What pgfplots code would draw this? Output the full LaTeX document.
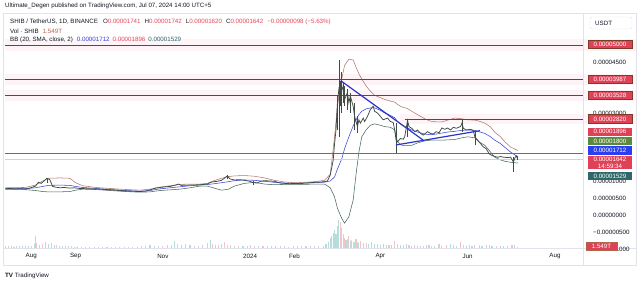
\documentclass[border=0pt]{standalone}
\usepackage{fontspec}
\setmainfont{Liberation Sans}
\usepackage{pgfplots}
\pgfplotsset{compat=1.18}
\usepackage{pgfplotstable}
\usepgfplotslibrary{fillbetween}

\definecolor{gridc}{HTML}{EEF1F7}
\definecolor{framec}{HTML}{E0E3EB}
\definecolor{txt}{HTML}{131722}
\definecolor{lred}{HTML}{E8475A}
\definecolor{bbup}{HTML}{B8766E}
\definecolor{bbmid}{HTML}{3A45D6}
\definecolor{bblo}{HTML}{486A5A}
\definecolor{bbfill}{HTML}{DDF0F5}
\definecolor{candle}{HTML}{3E4C44}
\definecolor{brownc}{HTML}{7E3B27}
\definecolor{greenc}{HTML}{4E8A2E}
\definecolor{trend}{HTML}{2B35C9}
\definecolor{volup}{HTML}{B5DEDA}
\definecolor{voldn}{HTML}{F2C6C6}
\definecolor{pinkband}{HTML}{FEF3F7}
\definecolor{tagred}{HTML}{DF4256}
\definecolor{taggreen}{HTML}{5C8A3C}
\definecolor{tagblue}{HTML}{2B3FF0}
\definecolor{tagteal}{HTML}{2F6868}
\definecolor{volc}{HTML}{B0654A}

\newcommand\fs{\fontsize{6.2}{6.8}\selectfont}
\newcommand\fl{\fontsize{6.2}{6.8}\selectfont}

\pgfplotstableread{
d c
-18 770
-15 780
-11 765
-8 775
-4 760
-1 790
3 850
5 960
7 930
9 1000
11 1080
13 1040
15 840
17 820
20 800
23 810
27 790
30 800
34 780
41 770
48 760
55 740
62 720
69 700
76 690
80 700
83 740
87 790
90 810
94 830
97 840
101 880
103 910
105 870
111 880
118 890
123 910
126 970
130 990
133 1020
135 1080
137 1150
139 1060
142 1030
146 1040
149 1020
153 990
155 950
158 940
160 990
163 1010
167 1000
170 990
174 940
177 930
181 920
184 930
188 920
191 940
195 950
198 960
202 970
205 980
207 1000
209 1180
211 1600
212 2100
213 2500
214 3300
215 3700
216 3500
218 3800
219 3400
221 3600
222 3300
223 3500
225 3200
226 2900
228 2600
229 2800
230 2700
232 2850
233 2750
235 2900
237 3100
239 3200
240 3050
242 3000
244 2900
246 2800
249 2850
251 2750
253 2720
254 2500
255 2200
256 2150
258 2250
260 2230
261 2300
263 2780
264 2600
266 2550
268 2450
270 2500
272 2400
274 2350
277 2450
279 2400
281 2380
283 2450
285 2420
287 2560
289 2520
291 2560
293 2500
295 2580
297 2550
300 2600
301 2700
302 2550
304 2500
307 2520
309 2480
310 2300
312 2200
314 2100
316 2000
318 1950
320 1800
322 1750
324 1720
326 1700
328 1720
330 1700
333 1690
335 1700
337 1560
338 1680
339 1740
340 1642
}\price

\pgfplotstableread{
d up mid lo
-18 800 775 745
-4 810 778 745
3 880 800 720
8 1000 840 690
12 1080 870 680
20 1090 880 680
27 1080 870 690
31 950 840 730
36 860 810 760
45 810 780 750
55 780 750 720
66 750 720 690
76 730 700 670
83 760 720 680
90 820 770 720
97 860 800 740
104 900 830 760
111 910 860 800
118 910 880 850
123 930 895 850
128 1010 920 790
133 1080 950 730
138 1130 980 760
142 1150 1010 850
149 1160 1030 930
156 1140 1020 960
163 1090 990 910
170 1020 960 890
177 970 940 900
184 950 930 900
191 960 935 900
198 980 950 910
205 1020 965 910
209 1200 1000 800
212 2300 1120 530
214 3200 1350 200
217 4000 1650 -100
219 4400 1950 -240
222 4580 2300 -50
225 4560 2620 440
227 4350 2800 1200
229 4150 2950 1850
231 4000 3050 2300
234 3800 3120 2500
237 3640 3150 2640
240 3520 3150 2680
244 3450 3080 2640
247 3400 3000 2600
251 3350 2930 2580
254 3320 2860 2500
256 3250 2750 2150
259 3180 2650 2050
263 3130 2560 2050
266 3050 2500 2050
270 2950 2440 2120
275 2830 2380 2180
279 2760 2360 2200
283 2740 2380 2200
287 2740 2410 2200
291 2790 2440 2210
296 2850 2460 2220
301 2830 2490 2270
305 2800 2500 2300
310 2790 2490 2270
313 2760 2450 2150
317 2700 2400 2050
321 2590 2300 1850
324 2430 2200 1700
328 2300 2100 1620
331 2150 1990 1580
335 2000 1850 1550
340 1896 1712 1529
}\bands

\pgfplotstableread{
d u v
-18 2 0
-16 0 2
-14 2 0
-12 0 1.5
-10 2 0
-8 0 2
-6 2.5 0
-4 0 2
-2 2 0
0 0 2.5
2 4 0
3 12 0
4 0 5
6 3 0
8 0 4
10 0 6
12 4 0
14 0 5
16 3 0
18 0 3
20 0 2.5
22 2 0
24 0 2
26 2 0
28 0 2
30 1.5 0
32 0 1.5
35 1.5 0
38 0 1.5
41 1.5 0
44 0 1.5
47 1.5 0
50 0 1.5
53 1.5 0
56 0 1.5
59 1.5 0
62 0 1.5
65 1.5 0
68 0 1.5
71 1.5 0
74 0 1.5
77 2 0
80 0 2
83 3 0
86 0 2
89 2.5 0
92 0 2
95 3 0
98 0 3
100 7 0
102 0 4
105 3 0
108 0 4
111 3 0
114 0 2.5
117 2.5 0
120 0 3
123 5 0
125 8 0
127 0 4
129 3 0
131 0 3
133 4 0
135 0 6
137 3 0
139 0 3
142 2 0
145 0 2
148 2.5 0
151 0 2
153 3 0
156 0 2
159 2 0
162 0 2
165 2 0
168 0 2
171 2 0
174 0 2
177 2 0
180 0 1.5
183 2 0
186 0 2
189 2 0
192 0 2
195 2 0
198 0 2
201 2.5 0
204 0 2.5
206 4 0
208 6 0
209 10 0
210 12 0
211 15 0
212 18 0
213 14 0
214 0 22
215 28 0
216 0 26
217 0 20
218 0 14
219 0 10
220 8 0
221 0 9
222 0 12
223 7 0
224 0 8
225 0 6
226 6 0
227 0 9
228 0 6
229 5 0
230 0 7
232 5 0
234 0 5
236 4 0
238 0 6
240 4 0
242 0 4
244 3 0
246 0 4
248 3 0
250 0 3
252 3 0
254 0 7
256 0 4
258 3 0
260 0 3
262 4 0
264 0 3
266 2.5 0
268 0 3
270 2.5 0
272 0 2.5
274 2.5 0
276 0 3
278 3 0
280 0 2.5
282 2.5 0
285 0 4
287 2.5 0
290 0 3
293 4 0
295 0 3
297 2.5 0
300 0 6
302 0 3
304 2.5 0
306 0 3
308 2 0
310 0 3
313 0 3
315 2.5 0
318 0 3
320 0 3
322 2 0
325 0 2.5
328 2 0
330 0 2
333 2 0
336 0 3
338 3 0
340 0 1.5
}\vol

\begin{document}
\begin{tikzpicture}[x=1pt,y=1pt]
\fill[white] (0pt,0pt) rectangle (640pt,284pt);
% faint pink glow bands around drawn levels
\fill[pinkband] (5,233) rectangle (637,245);
\fill[pinkband] (5,199) rectangle (637,210);
\fill[pinkband] (5,183) rectangle (637,194);
\fill[pinkband] (400,160) rectangle (637,170);

% volume pane
\begin{axis}[at={(5pt,36pt)}, anchor=south west, scale only axis,
  width=578pt, height=234pt, xmin=-18.3, xmax=385.6, ymin=0, ymax=234,
  axis line style={draw=none}, tick style={draw=none},
  xtick=\empty, ytick=\empty]
\addplot[ycomb, volup, line width=1.1pt] table[x=d,y=u]{\vol};
\addplot[ycomb, voldn, line width=1.1pt] table[x=d,y=v]{\vol};
\end{axis}

% price pane
\begin{axis}[at={(5pt,36pt)}, anchor=south west, scale only axis,
  width=578pt, height=234pt, xmin=-18.3, xmax=385.6, ymin=-971, ymax=5912,
  axis line style={draw=none}, tick style={draw=none},
  xtick={0,31,92,153,184,244,305,366},
  xticklabels={Aug,Sep,Nov,2024,Feb,Apr,Jun,Aug},
  xticklabel style={font=\fs, text=txt, anchor=center, yshift=-8pt},
  ytick={-1000,-500,...,5500}, yticklabels=\empty,
  yticklabel style={inner sep=0pt},
  grid=major, major grid style={gridc, line width=0.5pt},
  clip mode=individual]
\addplot[draw=none, name path=U] table[x=d,y=up]{\bands};
\addplot[draw=none, name path=L] table[x=d,y=lo]{\bands};
\addplot[bbfill, fill opacity=0.8] fill between[of=U and L];
\addplot[bbup, line width=0.55pt] table[x=d,y=up]{\bands};
\addplot[bblo, line width=0.55pt] table[x=d,y=lo]{\bands};
\addplot[bbmid, line width=0.55pt] table[x=d,y=mid]{\bands};
% horizontal levels
\addplot[brownc, line width=0.9pt] coordinates {(-18.3,5000) (385.6,5000)};
\addplot[brownc, line width=0.9pt] coordinates {(-18.3,3987) (385.6,3987)};
\addplot[brownc, line width=0.9pt] coordinates {(-18.3,3528) (385.6,3528)};
\addplot[brownc, line width=0.9pt] coordinates {(261,2820) (385.6,2820)};
\addplot[greenc, line width=0.9pt] coordinates {(-18.3,1800) (385.6,1800)};
\addplot[greenc!30, line width=0.4pt] coordinates {(-18.3,1642) (385.6,1642)};
% price (close) and wicks
\addplot[candle, line width=0.75pt] table[x=d,y=c]{\price};
\addplot[candle, line width=0.5pt] coordinates {(215,2300) (215,4560)};
\addplot[candle, line width=0.5pt] coordinates {(217,3000) (217,4200)};
\addplot[candle, line width=0.9pt] coordinates {(214,2500) (214,3500)};
\addplot[candle, line width=0.9pt] coordinates {(216,3200) (216,3950)};
\addplot[candle, line width=0.9pt] coordinates {(218,3300) (218,3900)};
\addplot[candle, line width=0.9pt] coordinates {(219,3200) (219,3800)};
\addplot[candle, line width=0.9pt] coordinates {(221,3100) (221,3700)};
\addplot[candle, line width=0.9pt] coordinates {(223,3000) (223,3600)};
\addplot[candle, line width=0.9pt] coordinates {(226,2500) (226,3300)};
\addplot[candle, line width=0.9pt] coordinates {(228,2400) (228,2900)};
\addplot[candle, line width=0.5pt] coordinates {(11,950) (11,1090)};
\addplot[candle, line width=0.5pt] coordinates {(137,1050) (137,1176)};
\addplot[candle, line width=0.5pt] coordinates {(155,880) (155,1000)};
\addplot[candle, line width=0.5pt] coordinates {(255,1820) (255,2700)};
\addplot[candle, line width=0.5pt] coordinates {(263,2300) (263,2790)};
\addplot[candle, line width=0.5pt] coordinates {(301,2450) (301,2800)};
\addplot[candle, line width=0.5pt] coordinates {(310,2050) (310,2450)};
\addplot[candle, line width=0.5pt] coordinates {(337,1260) (337,1700)};
\addplot[candle, line width=0.5pt] coordinates {(340,1620) (340,1742)};
% trend lines
\addplot[trend, line width=1.2pt] coordinates {(216.3,3950) (273.8,2206)};
\addplot[trend, line width=1.2pt] coordinates {(254.9,2059) (313.6,2479)};
\end{axis}

% frame
\draw[framec, line width=0.5pt] (3,19) rectangle (636,271);
\draw[framec, line width=0.5pt] (583,19) -- (583,271);
\draw[framec, line width=0.5pt] (3,35.5) -- (636,35.5);

% price scale labels
\foreach \yy/\lab in {222/0.00004500, 171/0.00003000, 103/0.00001000, 86/0.00000500, 69/0.00000000, 52/−0.00000500, 35/−0.00001000}
  \node[anchor=west, inner sep=0pt, font=\fs, text=txt] at (593,\yy) {\lab};

% tags
\tikzset{tag/.style={minimum width=44pt, minimum height=8.2pt, inner sep=0pt, text=white, font=\fs}}
\node[tag, fill=tagred, draw=brownc, line width=0.9pt] at (610,239.2) {0.00005000};
\node[tag, fill=tagred, draw=brownc, line width=0.9pt] at (610,204.3) {0.00003987};
\node[tag, fill=tagred, draw=brownc, line width=0.9pt] at (610,188.5) {0.00003528};
\node[tag, fill=tagred, draw=brownc, line width=0.9pt] at (610,165) {0.00002820};
\node[tag, fill=tagred] at (610,152.3) {0.00001896};
\node[tag, fill=taggreen] at (610,142.8) {0.00001800};
\node[tag, fill=tagblue] at (610,133.5) {0.00001712};
\node[tag, fill=tagred, minimum height=12.5pt, align=center] at (610,121.5) {0.00001642\\14:59:34};
\node[tag, fill=tagteal] at (610,108) {0.00001529};
\node[tag, fill=tagred, draw=volc, line width=0.6pt, minimum width=31pt] at (601.5,38) {1.549T};

% USDT box
\draw[framec, fill=white, rounded corners=1.5pt] (590,255) rectangle (632,267);
\node[anchor=west, inner sep=0pt, font=\fs, text=txt] at (595,261) {USDT};

% header and legend
\node[anchor=west, inner sep=0pt, font=\fs, text=txt] at (5,278) {Ultimate\_Degen published on TradingView.com, Jul 07, 2024 14:00 UTC+5};
\node[anchor=west, inner sep=0pt, font=\fl, text=txt] at (10,262) {SHIB / TetherUS, 1D, BINANCE\hspace{5pt}O\textcolor{lred}{0.00001741}\hspace{4pt}H\textcolor{lred}{0.00001742}\hspace{4pt}L\textcolor{lred}{0.00001620}\hspace{4pt}C\textcolor{lred}{0.00001642}\hspace{4pt}\textcolor{lred}{−0.00000098 (−5.63\%)}};
\node[anchor=west, inner sep=0pt, font=\fl, text=txt] at (10,253) {Vol · SHIB\hspace{4pt}\textcolor{volc}{1.549T}};
\node[anchor=west, inner sep=0pt, font=\fl, text=txt] at (10,244) {BB (20, SMA, close, 2)\hspace{4pt}\textcolor{bbmid}{0.00001712}\hspace{3pt}\textcolor{lred}{0.00001896}\hspace{3pt}\textcolor{tagteal}{0.00001529}};

% logo
\node[anchor=west, inner sep=0pt, font=\fs, text=txt] at (5,8) {\textbf{TV}\ TradingView};
\end{tikzpicture}
\end{document}
